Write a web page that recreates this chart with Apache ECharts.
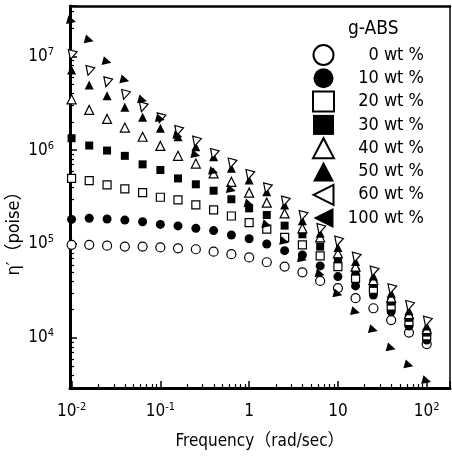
<!DOCTYPE html>
<html>
<head>
<meta charset="utf-8">
<script src="https://cdn.jsdelivr.net/npm/echarts@6/dist/echarts.min.js"></script>
<style>
  html, body { margin: 0; padding: 0; background: #fff; }
  #chart { width: 452px; height: 457px; }
</style>
</head>
<body>
<div id="chart"></div>
<script>
// frequency (rad/sec), 5 points per decade
var freq = [0.01, 0.0158, 0.0251, 0.0398, 0.0631, 0.1, 0.158, 0.251, 0.398, 0.631,
            1, 1.58, 2.51, 3.98, 6.31, 10, 15.8, 25.1, 39.8, 63.1, 100];

var seriesNames = ['0 wt %', '10 wt %', '20 wt %', '30 wt %', '40 wt %', '50 wt %', '60 wt %', '100 wt %'];

// η' (poise)
var eta0   = [9.8e4, 9.8e4, 9.6e4, 9.4e4, 9.4e4, 9.2e4, 9.0e4, 8.8e4, 8.3e4, 7.8e4,
              7.2e4, 6.4e4, 5.75e4, 5.0e4, 4.05e4, 3.4e4, 2.65e4, 2.07e4, 1.55e4, 1.14e4, 8.6e3];
var eta10  = [1.83e5, 1.88e5, 1.85e5, 1.80e5, 1.73e5, 1.62e5, 1.56e5, 1.47e5, 1.39e5, 1.25e5,
              1.14e5, 1.0e5, 8.5e4, 7.65e4, 5.85e4, 4.5e4, 3.58e4, 2.87e4, 1.9e4, 1.34e4, 9.5e3];
var eta20  = [5.0e5, 4.73e5, 4.26e5, 3.86e5, 3.53e5, 3.15e5, 2.95e5, 2.61e5, 2.31e5, 1.99e5,
              1.69e5, 1.44e5, 1.18e5, 9.8e4, 7.5e4, 5.75e4, 4.3e4, 3.3e4, 2.19e4, 1.49e4, 1.05e4];
var eta30  = [1.34e6, 1.12e6, 9.9e5, 8.7e5, 7.06e5, 6.15e5, 5.0e5, 4.33e5, 3.7e5, 3.0e5,
              2.4e5, 2.04e5, 1.57e5, 1.27e5, 9.4e4, 6.9e4, 5.08e4, 3.76e4, 2.44e4, 1.64e4, 1.14e4];
var eta40  = [3.48e6, 2.68e6, 2.15e6, 1.74e6, 1.39e6, 1.11e6, 8.7e5, 7.2e5, 5.66e5, 4.6e5,
              3.53e5, 2.76e5, 2.12e5, 1.47e5, 1.18e5, 7.96e4, 5.75e4, 4.14e4, 2.69e4, 1.79e4, 1.24e4];
var eta50  = [7.14e6, 4.94e6, 3.8e6, 2.86e6, 2.24e6, 1.71e6, 1.39e6, 1.09e6, 8.5e5, 6.4e5,
              4.81e5, 3.61e5, 2.61e5, 1.77e5, 1.3e5, 9.2e4, 6.5e4, 4.57e4, 2.99e4, 1.95e4, 1.34e4];
var eta60  = [1.03e7, 6.97e6, 5.27e6, 3.87e6, 2.86e6, 2.18e6, 1.6e6, 1.23e6, 9.1e5, 7.2e5,
              5.43e5, 3.92e5, 2.83e5, 1.99e5, 1.44e5, 1.06e5, 7.16e4, 5.08e4, 3.3e4, 2.19e4, 1.49e4];
var eta100 = [2.39e7, 1.49e7, 8.75e6, 5.58e6, 3.42e6, 2.15e6, 1.42e6, 8.9e5, 5.9e5, 3.77e5,
              2.67e5, 1.6e5, 1.06e5, 6.9e4, 4.8e4, 2.94e4, 1.9e4, 1.22e4, 7.8e3, 5.15e3, 3.5e3];

var allEta = [eta0, eta10, eta20, eta30, eta40, eta50, eta60, eta100];

// left-pointing triangle for the legend of 60 / 100 wt %
var LEFT_TRI = 'path://M0,5L10,0L10,10Z';

// marker look for each series
var marks = [
  { symbol: 'circle',   fill: '#fff', rot: 0,    icon: 'circle',   size: 9 },
  { symbol: 'circle',   fill: '#000', rot: 0,    icon: 'circle',   size: 9 },
  { symbol: 'rect',     fill: '#fff', rot: 0,    icon: 'rect',     size: 8 },
  { symbol: 'rect',     fill: '#000', rot: 0,    icon: 'rect',     size: 8 },
  { symbol: 'triangle', fill: '#fff', rot: 0,    icon: 'triangle', size: 9 },
  { symbol: 'triangle', fill: '#000', rot: 0,    icon: 'triangle', size: 9 },
  { symbol: 'triangle', fill: '#fff', rot: 165,  icon: LEFT_TRI,   size: 9 },
  { symbol: 'triangle', fill: '#000', rot: -105, icon: LEFT_TRI,   size: 9 }
];

var FONT = "'DejaVu Sans Condensed', 'Noto Sans CJK JP', sans-serif";

function powLabel(v, plain) {
  var e = Math.round(Math.log10(v));
  if (plain && e === 0) return '{b|1}';
  if (plain && e === 1) return '{b|10}';
  return '{b|10}{s|' + (e < 0 ? '-' : '') + Math.abs(e) + '}';
}

var richLab = {
  b: { fontSize: 17, lineHeight: 20, fontFamily: FONT, color: '#000' },
  s: { fontSize: 11, lineHeight: 20, verticalAlign: 'top', fontFamily: FONT, color: '#000' }
};

var chart = echarts.init(document.getElementById('chart'));

var series = allEta.map(function (arr, i) {
  var m = marks[i];
  return {
    name: seriesNames[i],
    type: 'scatter',
    data: arr.map(function (v, j) { return [freq[j], v]; }),
    symbol: m.symbol,
    symbolSize: m.size,
    symbolRotate: m.rot,
    itemStyle: { color: m.fill, borderColor: '#000', borderWidth: m.fill === '#fff' ? 1.2 : 0, opacity: 1 },
    emphasis: { disabled: true },
    silent: true
  };
});

chart.setOption({
  animation: false,
  backgroundColor: '#fff',
  title: {
    text: 'g-ABS',
    left: 343,
    top: 15,
    textStyle: { fontFamily: FONT, fontSize: 19, fontWeight: 'normal', color: '#000' }
  },
  legend: {
    orient: 'vertical',
    left: 312,
    top: 44,
    padding: 0,
    itemWidth: 21,
    itemHeight: 20,
    itemGap: 2.3,
    selectedMode: false,
    data: seriesNames.map(function (n, i) {
      return { name: n, icon: marks[i].icon };
    }),
    formatter: '{a|{name}}',
    textStyle: {
      rich: { a: { width: 85, align: 'right', fontSize: 18, fontFamily: FONT, color: '#000' } }
    }
  },
  grid: { left: 70, right: 2, top: 6, bottom: 69, outerBoundsMode: 'none', containLabel: false },
  xAxis: [{
    type: 'log',
    min: 0.0096,
    max: 183,
    name: 'Frequency（rad/sec）',
    nameLocation: 'middle',
    nameGap: 45,
    nameMoveOverlap: false,
    nameTextStyle: { fontFamily: FONT, fontSize: 17, color: '#000' },
    axisLine: { lineStyle: { color: '#000', width: 3 } },
    axisTick: { inside: true, length: 7, lineStyle: { color: '#000', width: 1.5 } },
    minorTick: { show: true, splitNumber: 9, length: 4, lineStyle: { color: '#000', width: 1.2 } },
    splitLine: { show: false },
    axisLabel: {
      margin: 14, showMinLabel: false, showMaxLabel: false,
      formatter: function (v) { return powLabel(v, true); },
      rich: richLab
    }
  }, {
    type: 'log', position: 'top', min: 0.0096, max: 183,
    axisLine: { lineStyle: { color: '#000', width: 2.5 } },
    axisTick: { show: false }, axisLabel: { show: false }, splitLine: { show: false }
  }],
  yAxis: [{
    type: 'log',
    min: 2930,
    max: 3.43e7,
    name: 'η′（poise）',
    nameLocation: 'middle',
    nameGap: 47,
    nameRotate: 90,
    nameMoveOverlap: false,
    nameTextStyle: { fontFamily: FONT, fontSize: 18, color: '#000', padding: [0, 64, 0, 0] },
    axisLine: { lineStyle: { color: '#000', width: 3 } },
    axisTick: { inside: true, length: 7, lineStyle: { color: '#000', width: 1.5 } },
    minorTick: { show: true, splitNumber: 9, length: 4, lineStyle: { color: '#000', width: 1.2 } },
    splitLine: { show: false },
    axisLabel: {
      margin: 16, showMinLabel: false, showMaxLabel: false,
      formatter: function (v) { return powLabel(v, false); },
      rich: richLab
    }
  }, {
    type: 'log', position: 'right', min: 2930, max: 3.43e7,
    axisLine: { lineStyle: { color: '#000', width: 1.5 } },
    axisTick: { show: false }, axisLabel: { show: false }, splitLine: { show: false }
  }],
  series: series
});
</script>
</body>
</html>
